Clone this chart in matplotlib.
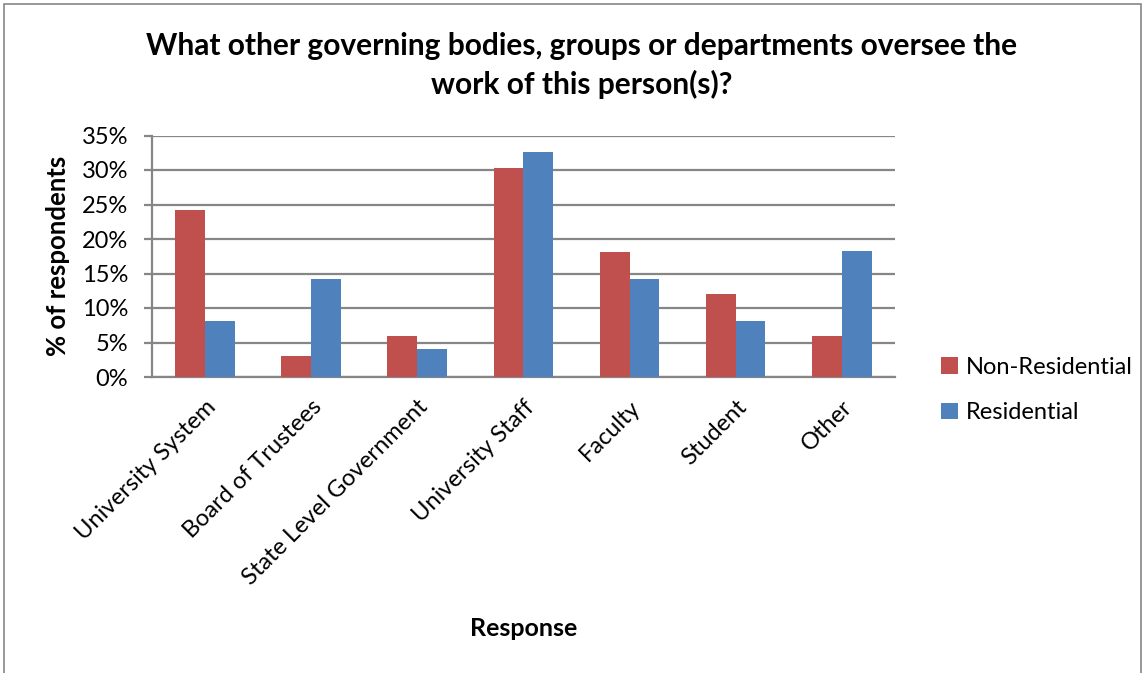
import matplotlib
matplotlib.use("Agg")
from matplotlib import pyplot as plt
from matplotlib.patches import Rectangle
import numpy as np

categories = ["University System", "Board of Trustees", "State Level Government",
              "University Staff", "Faculty", "Student", "Other"]
non_residential = [24.2, 3.0, 6.0, 30.3, 18.1, 12.0, 6.0]
residential = [8.1, 14.2, 4.0, 32.6, 14.2, 8.1, 18.3]
y_ticks = [0, 5, 10, 15, 20, 25, 30, 35]

plt.rcParams['font.family'] = ['Lato', 'DejaVu Sans']

red = "#c0504d"
blue = "#4f81bd"
grid_col = "#868686"

fig = plt.figure(figsize=(11.45, 6.73), dpi=100)
ax = fig.add_axes([151.7 / 1145, 1 - 377 / 673, (895 - 151.7) / 1145, (377 - 135.5) / 673])

x = np.arange(len(categories))
w = 0.28
ax.bar(x - w / 2, non_residential, w, color=red, label="Non-Residential", zorder=3)
ax.bar(x + w / 2, residential, w, color=blue, label="Residential", zorder=3)

ax.set_xlim(-0.5, len(categories) - 0.5)
ax.set_ylim(0, 35)
ax.set_yticks(y_ticks)
ax.set_yticklabels([f"{t}%" for t in y_ticks], fontsize=17)
ax.yaxis.grid(True, color=grid_col, linewidth=1.6, zorder=0)
ax.set_axisbelow(True)

ax.set_xticks(x)
ax.set_xticklabels(categories, rotation=45, ha="right", rotation_mode="anchor", fontsize=17)
ax.tick_params(axis="x", length=0, pad=14)
ax.tick_params(axis="y", length=6, color=grid_col, width=1.6, pad=11)

for side in ["top", "right"]:
    ax.spines[side].set_visible(False)
ax.spines["left"].set_color(grid_col)
ax.spines["left"].set_linewidth(1.6)
ax.spines["bottom"].set_color(grid_col)
ax.spines["bottom"].set_linewidth(1.6)

fig.text(58 / 1145, 1 - 256 / 673, "% of respondents", fontsize=18.5, fontweight="bold",
         rotation=90, ha="center", va="center")
fig.text((151.7 + 895) / 2 / 1145, 1 - 628 / 673, "Response", fontsize=18,
         fontweight="bold", ha="center", va="center")

fig.text(582 / 1145, 1 - 46 / 673, "What other governing bodies, groups or departments oversee the",
         fontsize=21.5, fontweight="bold", ha="center", va="center")
fig.text(582 / 1145, 1 - 84 / 673, "work of this person(s)?",
         fontsize=21.5, fontweight="bold", ha="center", va="center")

ax.legend(loc="center left", bbox_to_anchor=(920 / 1145, 1 - 390 / 673),
          bbox_transform=fig.transFigure, frameon=False, fontsize=17,
          handlelength=0.7, handleheight=0.7, handletextpad=0.35, labelspacing=1.05)

fig.patches.append(Rectangle((4 / 1145, -0.01), (1141 - 4) / 1145, 1 - 4 / 673 + 0.01,
                             transform=fig.transFigure, fill=False,
                             edgecolor="#868686", linewidth=1.2))

fig.savefig("out.png", dpi=100)
